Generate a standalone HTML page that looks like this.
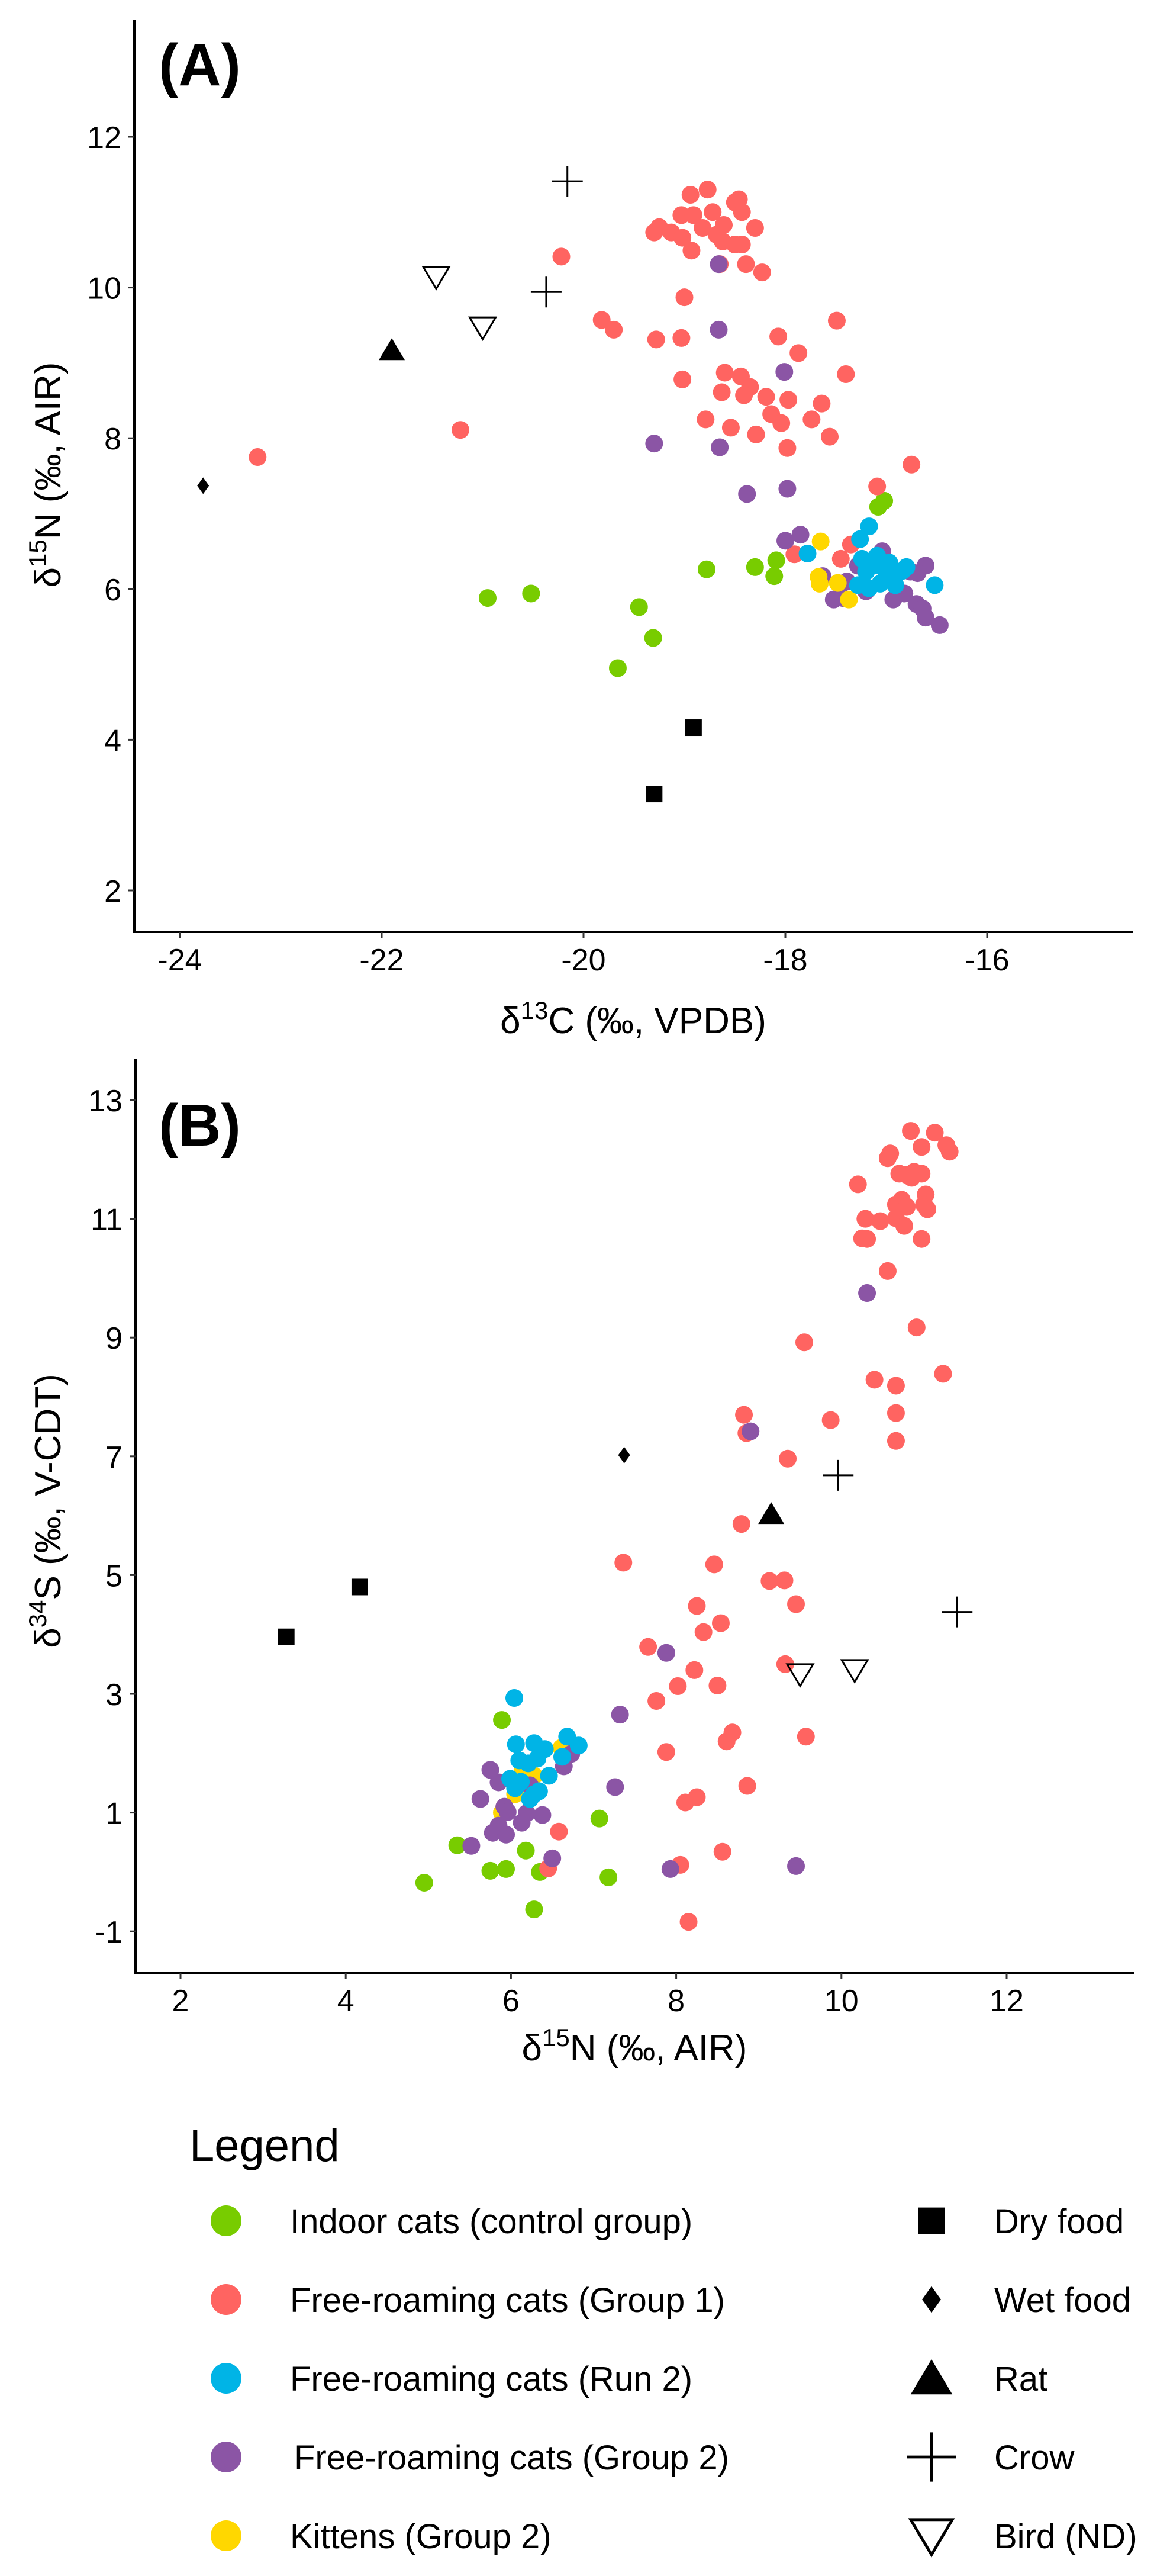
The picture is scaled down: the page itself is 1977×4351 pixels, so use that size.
<!DOCTYPE html>
<html><head><meta charset="utf-8">
<style>
html,body{margin:0;padding:0;background:#fff;}
svg{display:block;font-family:"Liberation Sans",Arial,sans-serif;}
</style></head>
<body>
<svg id="fig" width="1977" height="4351" viewBox="0 0 1977 4351" xmlns="http://www.w3.org/2000/svg">
<rect width="1977" height="4351" fill="#fff"/>
<g id="panelA"></g>
<g id="panelB"></g>
<g id="legend">
  <text x="320" y="3650" font-size="76">Legend</text>
</g>
</svg>
<script>
// ---------- Panel A data: d13C (x), d15N (y) ----------
const aIndoorX=[-20.95,-20.52,-19.45,-19.31,-19.66,-18.78,-18.30,-18.09,-18.11,-17.08,-17.02];
const aIndoorY=[5.88,5.94,5.76,5.35,4.95,6.26,6.29,6.38,6.17,7.09,7.17];
const aG1X=[-23.23,-21.22,-20.22,-19.82,-19.70,-19.28,-19.03,-19.02,-19.0,-19.30,-19.25,-19.13,-19.02,-19.03,-18.94,-18.77,-18.91,-18.82,-18.72,-18.68,-18.61,-18.62,-18.50,-18.43,-18.50,-18.43,-18.46,-18.30,-18.93,-18.65,-18.39,-18.23,-18.07,-17.87,-17.49,-17.40,-18.60,-18.44,-18.35,-18.63,-18.41,-18.19,-17.97,-18.14,-18.04,-18.79,-18.54,-18.29,-17.98,-17.74,-17.64,-17.56,-16.75,-17.09,-17.35,-17.45,-17.91];
const aG1Y=[7.75,8.11,10.41,9.57,9.44,9.31,9.33,8.78,9.87,10.73,10.80,10.73,10.66,10.96,11.23,11.30,10.96,10.79,11.0,10.70,10.83,10.61,10.57,10.57,11.13,11.0,11.17,10.79,10.49,10.31,10.31,10.20,9.35,9.13,9.56,8.85,8.87,8.82,8.68,8.61,8.57,8.55,8.51,8.32,8.20,8.25,8.14,8.05,7.87,8.25,8.46,8.02,7.65,7.36,6.59,6.40,6.46];
const aRun2X=[-17.78,-17.26,-17.17,-17.24,-17.20,-17.13,-17.28,-17.17,-17.06,-16.98,-16.97,-16.91,-16.84,-16.80,-16.52,-17.09,-17.02];
const aRun2Y=[6.47,6.66,6.83,6.40,6.23,6.31,6.05,6.01,6.07,6.18,6.35,6.05,6.24,6.29,6.05,6.44,6.27];
const aG2X=[-18.66,-18.66,-18.01,-19.30,-18.65,-18.38,-17.98,-18.0,-17.85,-17.63,-17.39,-17.52,-17.43,-17.28,-17.20,-17.04,-16.93,-16.82,-16.70,-16.64,-16.61,-16.47,-16.76,-16.61,-16.69];
const aG2Y=[10.31,9.44,8.88,7.93,7.88,7.26,7.33,6.64,6.72,6.17,6.10,5.86,5.88,6.31,5.97,6.50,5.86,5.94,5.80,5.74,5.62,5.52,6.23,6.31,6.21];
const aKitX=[-17.65,-17.67,-17.66,-17.48,-17.37];
const aKitY=[6.63,6.16,6.07,6.08,5.86];
const aDryX=[-18.91,-19.30], aDryY=[4.16,3.28];
const aWetX=[-23.77], aWetY=[7.37];
const aRatX=[-21.9], aRatY=[9.17];
const aCrowX=[-20.16,-20.37], aCrowY=[11.41,9.94];
const aBirdX=[-21.46,-21.0], aBirdY=[10.14,9.47];
const aXTicks=[-24,-22,-20,-18,-16];
const aYTicks=[2,4,6,8,10,12];

// ---------- Panel B data: d15N (x), d34S (y) ----------
const bIndoorX=[5.89,4.95,5.35,5.75,5.94,6.18,6.35,6.28,7.07,7.18];
const bIndoorY=[2.56,-0.18,0.45,0.02,0.05,0.36,0.0,-0.63,0.90,-0.09];
const bG1X=[10.84,11.13,11.27,11.31,10.97,10.59,10.56,10.20,10.70,10.79,10.88,10.97,10.85,11.02,10.73,10.66,10.79,11.0,11.04,10.29,10.47,10.66,10.76,10.25,10.31,10.97,10.56,10.91,9.55,11.23,10.40,10.66,10.66,9.87,8.82,8.85,10.66,9.35,8.79,7.36,8.46,9.13,9.31,9.45,8.25,8.54,8.33,7.66,9.32,8.22,8.50,8.02,7.76,8.68,8.61,9.57,7.88,8.86,8.25,8.11,6.58,6.45,8.05,8.56,8.15];
const bG1Y=[12.48,12.45,12.24,12.13,12.21,12.10,12.02,11.58,11.76,11.74,11.79,11.76,11.69,11.41,11.32,11.24,11.20,11.24,11.16,11.0,10.96,11.01,10.88,10.67,10.66,10.66,10.12,9.17,8.92,8.39,8.29,8.19,7.73,7.61,7.70,7.39,7.26,6.96,5.86,5.21,5.18,4.90,4.91,4.51,4.48,4.19,4.04,3.79,3.50,3.40,3.14,3.13,2.88,2.35,2.20,2.28,2.02,1.45,1.26,1.17,0.68,0.06,0.12,0.34,-0.84];
const bKitX=[5.89,6.05,6.61,6.14,6.28];
const bKitY=[1.0,1.31,2.09,1.73,1.62];
const bG2X=[10.31,8.90,7.88,7.32,7.26,7.93,9.45,6.50,5.52,5.63,5.75,5.85,5.92,5.96,5.78,5.94,5.85,6.13,6.19,6.38,6.64,6.73,6.23];
const bG2Y=[9.75,7.42,3.69,2.65,1.43,0.05,0.10,0.23,0.44,1.23,1.72,1.51,1.10,1.01,0.66,0.63,0.78,0.83,0.99,0.96,1.78,1.99,1.46];
const bRun2X=[6.04,6.06,6.28,6.41,6.68,6.82,6.62,6.10,6.21,6.32,6.46,5.99,6.12,6.05,6.28,6.34,6.23];
const bRun2Y=[2.93,2.15,2.17,2.07,2.28,2.13,1.94,1.88,1.83,1.91,1.62,1.57,1.52,1.41,1.31,1.36,1.23];
const bDryX=[3.28,4.17], bDryY=[3.96,4.80];
const bWetX=[7.37], bWetY=[7.02];
const bRatX=[9.15], bRatY=[6.03];
const bCrowX=[9.96,11.40], bCrowY=[6.68,4.38];
const bBirdX=[9.50,10.16], bBirdY=[3.33,3.40];
const bXTicks=[2,4,6,8,10,12];
const bYTicks=[-1,1,3,5,7,9,11,13];

const legendGroups=["Indoor cats (control group)","Free-roaming cats (Group 1)","Free-roaming cats (Run 2)","Free-roaming cats (Group 2)","Kittens (Group 2)"];
const legendSources=["Dry food","Wet food","Rat","Crow","Bird (ND)"];

const NS="http://www.w3.org/2000/svg";
const COL={indoor:"#78cc00",g1:"#ff6461",run2:"#00b4e6",g2:"#8b55a5",kit:"#ffd700"};
function mk(tag,attrs,parent){const e=document.createElementNS(NS,tag);for(const k in attrs)e.setAttribute(k,attrs[k]);parent.appendChild(e);return e;}

function marker(g,shape,cx,cy,fill,scale){
  const s=scale||1;let e;
  if(shape==="circle"){e=mk("circle",{cx:cx,cy:cy,r:15*s,fill:fill},g);}
  else if(shape==="square"){e=mk("rect",{x:cx-14*s,y:cy-14*s,width:28*s,height:28*s,fill:"#000"},g);}
  else if(shape==="diamond"){e=mk("polygon",{points:`${cx},${cy-14*s} ${cx+10*s},${cy} ${cx},${cy+14*s} ${cx-10*s},${cy}`,fill:"#000"},g);}
  else if(shape==="tri"){e=mk("polygon",{points:`${cx},${cy-20*s} ${cx+22*s},${cy+17*s} ${cx-22*s},${cy+17*s}`,fill:"#000"},g);}
  else if(shape==="tridown"){e=mk("polygon",{points:`${cx-22*s},${cy-17*s} ${cx+22*s},${cy-17*s} ${cx},${cy+20*s}`,fill:"none",stroke:"#000","stroke-width":3*s},g);}
  else if(shape==="plus"){e=mk("path",{d:`M${cx-26*s},${cy}H${cx+26*s}M${cx},${cy-26*s}V${cy+26*s}`,stroke:"#000","stroke-width":3*s,fill:"none"},g);}
  return e;
}

function panel(id,cfg){
  const g=document.getElementById(id);
  const X=v=>cfg.x0+(v-cfg.xv0)*cfg.xs;
  const Y=v=>cfg.y0-(v-cfg.yv0)*cfg.ys;
  const ax=mk("path",{d:`M${cfg.L},${cfg.T}V${cfg.B}H${cfg.R}`,stroke:"#000","stroke-width":4,fill:"none"},g);
  
  
  cfg.xt.forEach(t=>{
    const tk=mk("line",{x1:X(t),x2:X(t),y1:cfg.B,y2:cfg.B+10,stroke:"#333","stroke-width":3},g);
    
    
    const tl=mk("text",{x:X(t),y:cfg.B+65,"font-size":52,"text-anchor":"middle"},g);
    tl.textContent=String(t);
    
    
  });
  cfg.yt.forEach(t=>{
    const tk=mk("line",{x1:cfg.L-10,x2:cfg.L,y1:Y(t),y2:Y(t),stroke:"#333","stroke-width":3},g);
    
    
    const tl=mk("text",{x:cfg.L-22,y:Y(t)+19,"font-size":52,"text-anchor":"end"},g);
    tl.textContent=String(t);
    
    
  });
  cfg.series.forEach(s=>{
    for(let i=0;i<s.xs.length;i++){
      const m=marker(g,s.shape,X(s.xs[i]),Y(s.ys[i]),s.fill);
      
      
    }
  });
}

panel("panelA",{L:227,T:33,B:1574,R:1915,x0:304,xv0:-24,xs:170.5,y0:231,yv0:12,ys:127.3,xt:aXTicks,yt:aYTicks,
  series:[
    {name:"point-indoor",shape:"circle",fill:COL.indoor,xs:aIndoorX,ys:aIndoorY},
    {name:"point-group1",shape:"circle",fill:COL.g1,xs:aG1X,ys:aG1Y},
    {name:"point-group2",shape:"circle",fill:COL.g2,xs:aG2X,ys:aG2Y},
    {name:"point-kitten",shape:"circle",fill:COL.kit,xs:aKitX,ys:aKitY},
    {name:"point-run2",shape:"circle",fill:COL.run2,xs:aRun2X,ys:aRun2Y},
    {name:"point-dry-food",shape:"square",xs:aDryX,ys:aDryY},
    {name:"point-wet-food",shape:"diamond",xs:aWetX,ys:aWetY},
    {name:"point-rat",shape:"tri",xs:aRatX,ys:aRatY},
    {name:"point-crow",shape:"plus",xs:aCrowX,ys:aCrowY},
    {name:"point-bird",shape:"tridown",xs:aBirdX,ys:aBirdY}
  ]});
panel("panelB",{L:229,T:1788,B:3332,R:1916,x0:305,xv0:2,xs:139.6,y0:1858,yv0:13,ys:100.3,xt:bXTicks,yt:bYTicks,
  series:[
    {name:"point-indoor",shape:"circle",fill:COL.indoor,xs:bIndoorX,ys:bIndoorY},
    {name:"point-group1",shape:"circle",fill:COL.g1,xs:bG1X,ys:bG1Y},
    {name:"point-kitten",shape:"circle",fill:COL.kit,xs:bKitX,ys:bKitY},
    {name:"point-group2",shape:"circle",fill:COL.g2,xs:bG2X,ys:bG2Y},
    {name:"point-run2",shape:"circle",fill:COL.run2,xs:bRun2X,ys:bRun2Y},
    {name:"point-dry-food",shape:"square",xs:bDryX,ys:bDryY},
    {name:"point-wet-food",shape:"diamond",xs:bWetX,ys:bWetY},
    {name:"point-rat",shape:"tri",xs:bRatX,ys:bRatY},
    {name:"point-crow",shape:"plus",xs:bCrowX,ys:bCrowY},
    {name:"point-bird",shape:"tridown",xs:bBirdX,ys:bBirdY}
  ]});

// legend
const lg=document.getElementById("legend");
const gCols=[COL.indoor,COL.g1,COL.run2,COL.g2,COL.kit];
const sShapes=["square","diamond","tri","plus","tridown"];
legendGroups.forEach((t,i)=>{
  const cy=3751+i*133;
  const c=mk("ellipse",{cx:382,cy:cy,rx:26,ry:26,fill:gCols[i]},lg);
  
  
  const tx=mk("text",{x:i===3?497:490,y:cy+21,"font-size":58},lg);
  tx.textContent=t;
  
  
});
legendSources.forEach((t,i)=>{
  const cy=3751+i*133;
  const m=marker(lg,sShapes[i],1574,cy,"#000",1.6);
  
  
  const tx=mk("text",{x:1680,y:cy+21,"font-size":58},lg);
  tx.textContent=t;
  
  
});
</script>
<div style="position:absolute;left:0;top:0;width:1977px;height:4351px;pointer-events:none">
  <svg width="1977" height="4351" style="position:absolute;left:0;top:0;font-family:'Liberation Sans',Arial,sans-serif">
    <text x="268" y="144" font-size="100" font-weight="bold">(A)</text>
    <text x="268" y="1935" font-size="100" font-weight="bold">(B)</text>
    <text x="1070" y="1745" font-size="62" text-anchor="middle">δ<tspan dy="-24" font-size="42">13</tspan><tspan dy="24">C (‰, VPDB)</tspan></text>
    <text transform="translate(102,802) rotate(-90)" font-size="62" text-anchor="middle">δ<tspan dy="-24" font-size="42">15</tspan><tspan dy="24">N (‰, AIR)</tspan></text>
    <text x="1072" y="3480" font-size="62" text-anchor="middle">δ<tspan dy="-24" font-size="42">15</tspan><tspan dy="24">N (‰, AIR)</tspan></text>
    <text transform="translate(102,2552) rotate(-90)" font-size="62" text-anchor="middle">δ<tspan dy="-24" font-size="42">34</tspan><tspan dy="24">S (‰, V-CDT)</tspan></text>
  </svg>
</div>
</body></html>
